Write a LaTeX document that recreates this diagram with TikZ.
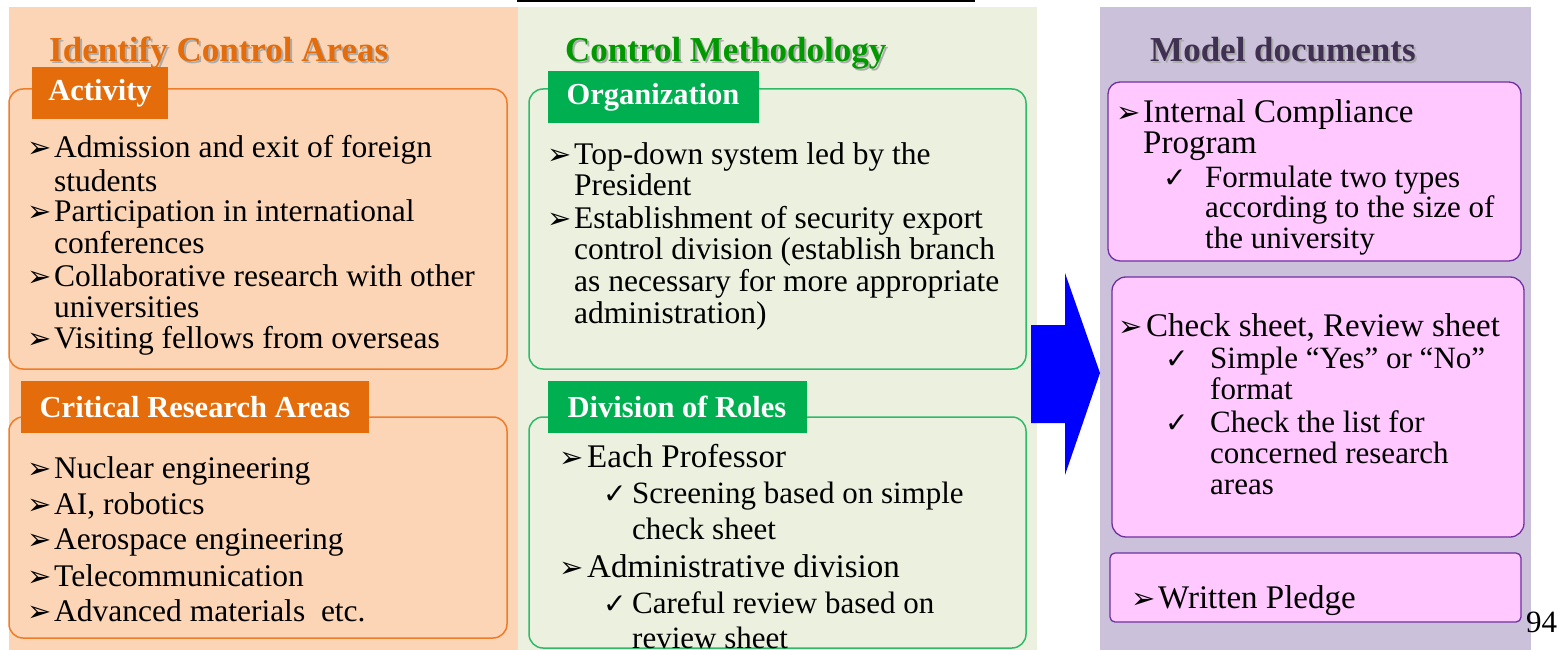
\documentclass[tikz,border=0pt]{standalone}
\usepackage{fontspec}
\setmainfont{Liberation Serif}
\newfontfamily\symfont{DejaVu Sans}
\definecolor{peach}{HTML}{FBD5B5}
\definecolor{orangeline}{HTML}{EE7D2A}
\definecolor{orangetag}{HTML}{E46C0A}
\definecolor{sage}{HTML}{EBF1DE}
\definecolor{greenline}{HTML}{2EBB68}
\definecolor{greentag}{HTML}{00B050}
\definecolor{greenhead}{HTML}{009A00}
\definecolor{lilac}{HTML}{CCC1DA}
\definecolor{pinkbox}{HTML}{FFC9FF}
\definecolor{purpleline}{HTML}{7030A0}
\definecolor{purplehead}{HTML}{403152}
\newcommand{\arr}{➢}
\newcommand{\chk}{✓}

\begin{document}
\begin{tikzpicture}[x=1pt,y=-1pt]
    \tikzstyle{item}=[anchor=base west,inner sep=0pt,font=\fontsize{31.5}{32}\selectfont]
    \tikzstyle{itemb}=[item,font=\fontsize{33}{34}\selectfont]
    \tikzstyle{subitem}=[item,font=\fontsize{31}{32}\selectfont]
    \tikzstyle{bul}=[anchor=base west,inner sep=0pt,font=\symfont\fontsize{29}{29}\selectfont]
    \tikzstyle{tick}=[bul,font=\symfont\fontsize{28}{28}\selectfont]
    \tikzstyle{head}=[anchor=base west,inner sep=0pt,font=\bfseries\fontsize{35}{36}\selectfont]
    \tikzstyle{tag}=[inner sep=0pt,text=white,font=\bfseries\fontsize{30.5}{31}\selectfont]
    \clip (0,0) rectangle (1559,650);

    % panels
    \fill[peach] (9,7) rectangle (518,650);
    \fill[sage] (518,7) rectangle (1037,650);
    \fill[lilac] (1100,7) rectangle (1531,650);
    \draw[line width=2.5pt] (517,1) -- (975,1);

    % headings
    \foreach \x/\name/\col/\t in {49/hid/orangetag/Identify Control Areas, 565/hcm/greenhead/Control Methodology, 1150/hmd/purplehead/Model documents} {
        \node[head,text=gray!65] (\name-s) at (\x+2,64) {\t};
        \node[head,text=\col] (\name) at (\x,62) {\t};
    }

    % left column
    \draw[orangeline,line width=1.5pt,rounded corners=14pt] (9,89) rectangle (507,369);
    \draw[orangeline,line width=1.5pt,rounded corners=14pt] (9,417) rectangle (507,638);
    \node[tag,fill=orangetag,minimum width=136,minimum height=52] (activity) at (100,93) {Activity};
    \node[tag,fill=orangetag,minimum width=348,minimum height=52] (critical) at (195,407) {Critical Research Areas};

    \foreach \y/\t [count=\i] in {158/Admission and exit of foreign, 191/students, 222/Participation in international, 253/conferences, 286/Collaborative research with other, 317/universities, 348/Visiting fellows from overseas}
        \node[item] (act-\i) at (54,\y) {\t};
    \foreach \y [count=\i] in {158,222,286,348}
        \node[bul] (actb-\i) at (27,\y) {\arr};

    \foreach \y/\t [count=\i] in {478/Nuclear engineering, {514/AI, robotics}, 549/Aerospace engineering, 586/Telecommunication, 621/Advanced materials\ \ etc.} {
        \node[item] (cra-\i) at (54,\y) {\t};
        \node[bul] (crab-\i) at (27,\y) {\arr};
    }

    % middle column
    \draw[greenline,line width=1.5pt,rounded corners=14pt] (529,89) rectangle (1026,369);
    \draw[greenline,line width=1.5pt,rounded corners=14pt] (529,417) rectangle (1026,648);
    \node[tag,fill=greentag,minimum width=211,minimum height=52] (organization) at (653,97) {Organization};
    \node[tag,fill=greentag,minimum width=259,minimum height=52] (roles) at (677,407) {Division of Roles};

    \foreach \y/\t [count=\i] in {165/Top-down system led by the, 196/President, 229/Establishment of security export, 259/control division (establish branch, 291/as necessary for more appropriate, 323/administration)}
        \node[item] (org-\i) at (574,\y) {\t};
    \foreach \y [count=\i] in {165,229}
        \node[bul] (orgb-\i) at (547,\y) {\arr};

    \node[itemb] (rol-1) at (587,467) {Each Professor};
    \node[itemb] (rol-2) at (587,577) {Administrative division};
    \foreach \y [count=\i] in {467,577}
        \node[bul] (rolb-\i) at (559,\y) {\arr};
    \foreach \y/\t [count=\i] in {503/Screening based on simple, 539/check sheet, 613/Careful review based on, 648/review sheet}
        \node[subitem] (rols-\i) at (632,\y) {\t};
    \foreach \y [count=\i] in {503,613}
        \node[tick] (rolc-\i) at (603,\y) {\chk};

    % arrow
    \fill[blue] (1031,325) -- (1065,325) -- (1065,273) -- (1100,373) -- (1065,475) -- (1065,423) -- (1031,423) -- cycle;

    % right column
    \draw[purpleline,line width=1.3pt,fill=pinkbox,rounded corners=12pt] (1108,82) rectangle (1521,261);
    \draw[purpleline,line width=1.3pt,fill=pinkbox,rounded corners=14pt] (1112,277) rectangle (1524,537);
    \draw[purpleline,line width=1.3pt,fill=pinkbox,rounded corners=5pt] (1110,553) rectangle (1521,622);

    \node[itemb] (icp-1) at (1143,123) {Internal Compliance};
    \node[itemb] (icp-2) at (1143,154) {Program};
    \node[bul] (icpb-1) at (1116,123) {\arr};
    \foreach \y/\t [count=\i] in {188/Formulate two types, 218/according to the size of, 248/the university}
        \node[subitem] (icps-\i) at (1205,\y) {\t};
    \node[tick] (icpc-1) at (1163,188) {\chk};

    \node[itemb] (chk-1) at (1146,336) {Check sheet, Review sheet};
    \node[bul] (chkb-1) at (1118,336) {\arr};
    \foreach \y/\t [count=\i] in {368/Simple “Yes” or “No”, 399/format, 432/Check the list for, 463/concerned research, 494/areas}
        \node[subitem] (chks-\i) at (1210,\y) {\t};
    \foreach \y [count=\i] in {368,432}
        \node[tick] (chkc-\i) at (1165,\y) {\chk};

    \node[itemb] (pledge) at (1158,608) {Written Pledge};
    \node[bul] (pledgeb) at (1131,608) {\arr};

    \node[anchor=base west,inner sep=0pt,font=\fontsize{31}{31}\selectfont] (page) at (1526,632) {94};
\end{tikzpicture}
\end{document}
